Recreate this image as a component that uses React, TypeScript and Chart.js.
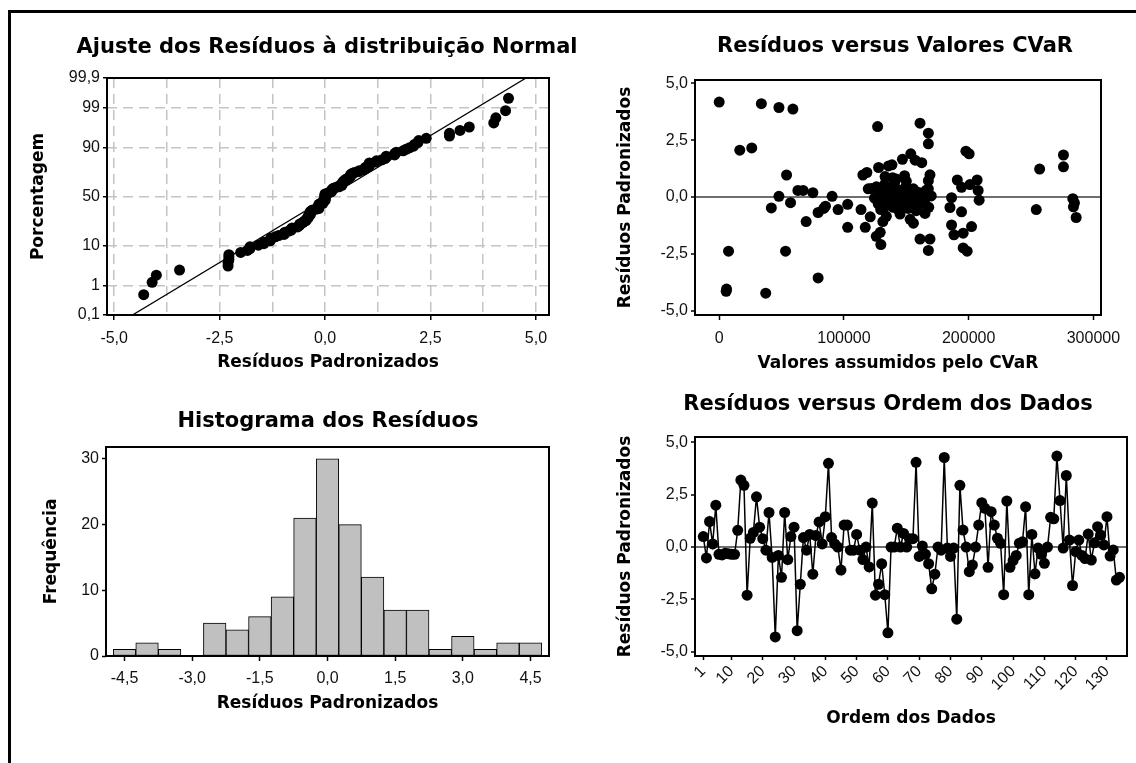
import { useEffect, useRef } from 'react';
import { Chart, LinearScale, registerables } from 'chart.js';

// ---------- data ----------

// Standardized residuals in data order (134 observations)
const orderResiduals = [
  0.5, -0.52, 1.22, 0.15, 2.0, -0.35, -0.38, -0.3, -0.32, -0.35,
  -0.35, 0.8, 3.2, 2.95, -2.3, 0.42, 0.7, 2.4, 0.95, 0.4,
  -0.15, 1.65, -0.5, -4.3, -0.4, -1.45, 1.65, -0.6, 0.5, 0.95,
  -4.0, -1.78, 0.45, -0.15, 0.6, -1.3, 0.55, 1.2, 0.15, 1.45,
  4.0, 0.45, 0.15, 0.0, -1.1, 1.05, 1.05, -0.15, -0.15, 0.6,
  -0.15, -0.6, 0.0, -0.95, 2.1, -2.3, -1.78, -0.8, -2.28, -4.1,
  0.0, 0.0, 0.9, 0.0, 0.65, 0.0, 0.4, 0.4, 4.05, -0.45,
  0.05, -0.35, -0.8, -2.0, -1.3, 0.0, -0.15, 4.28, -0.05, -0.45,
  -0.05, -3.45, 2.95, 0.81, 0.0, -1.18, -0.86, 0.0, 1.05, 2.12,
  1.85, -0.97, 1.69, 1.05, 0.42, 0.18, -2.28, 2.2, -0.97, -0.65,
  -0.4, 0.18, 0.25, 1.92, -2.28, 0.6, -1.28, -0.05, -0.35, -0.78,
  0.0, 1.42, 1.35, 4.35, 2.22, -0.05, 3.42, 0.33, -1.84, -0.22,
  0.33, -0.4, -0.55, 0.62, -0.62, 0.2, 0.97, 0.57, 0.1, 1.45,
  -0.43, -0.14, -1.58, -1.45,
];
const orderTicks = [1, 10, 20, 30, 40, 50, 60, 70, 80, 90, 100, 110, 120, 130];

// Histogram of residuals (bin centres, width 0,5)
const histogramBins = [-4.5, -4.0, -3.5, -3.0, -2.5, -2.0, -1.5, -1.0, -0.5, 0.0, 0.5, 1.0, 1.5, 2.0, 2.5, 3.0, 3.5, 4.0, 4.5];
const histogramCounts = [1, 2, 1, 0, 5, 4, 6, 9, 21, 30, 20, 12, 7, 7, 1, 3, 1, 2, 2];
const histogramXTicks = [-4.5, -3.0, -1.5, 0.0, 1.5, 3.0, 4.5];
const frequencyTicks = [0, 10, 20, 30];

// Residuals against the CVaR values
const cvarValues = [
  0, 33800, 47900, 59100, 16500, 26100, 7500, 5900, 5600, 37300,
  53200, 79300, 54000, 47900, 41800, 57200, 63100, 67300, 75100, 69700,
  79300, 83800, 85200, 90500, 95300, 103000, 103000, 113700, 117100, 115200,
  118400, 121100, 119500, 125900, 127000, 127800, 129600, 129100, 131200, 135700,
  138500, 146900, 153600, 157100, 162400, 161000, 167700, 167700, 169000, 167700,
  167700, 165000, 161000, 169000, 167700, 155700, 153100, 155700, 141900, 148600,
  186300, 185000, 190900, 194300, 194300, 186300, 188200, 195600, 202300, 195600,
  198800, 197800, 200400, 206800, 207600, 208400, 201000, 254200, 256900, 276000,
  276000, 283500, 284800, 284000, 286200, 166500, 122000, 124500, 126000, 127500,
  128500, 129500, 130500, 131500, 132500, 133500, 134500, 135500, 136500, 137500,
  138500, 139500, 140500, 141500, 142500, 143500, 144500, 145500, 146500, 147500,
  148500, 149500, 150500, 151500, 152500, 153500, 154500, 155500, 156500, 157500,
  158500, 160000, 161500, 163000, 164500, 166000, 168000, 170000, 133000, 139000,
  145000, 150000, 158000, 134000,
];
const cvarResiduals = [
  4.18, 4.11, 3.94, 3.87, 2.06, 2.16, -2.38, -4.05, -4.15, -4.23,
  -2.38, -3.56, 0.97, 0.03, -0.48, -0.25, 0.29, 0.29, 0.19, -1.08,
  -0.68, -0.5, -0.4, 0.03, -0.55, -0.32, -1.33, -0.55, -1.33, 0.97,
  1.08, -0.87, 0.36, -1.73, 3.1, 1.3, -2.09, -1.55, -1.08, 1.37,
  1.42, 1.66, 1.9, 1.62, 1.51, 3.25, 2.81, 2.34, 0.98, 0.72,
  0.36, -0.72, -1.85, -1.85, -2.35, -1.15, -0.98, 0.36, 0.79, 0.94,
  -0.03, -0.46, 0.75, 0.43, -0.65, -1.23, -1.66, -1.59, -1.3, -2.24,
  -2.38, 2.02, 1.9, 0.75, 0.29, -0.14, 0.55, -0.55, 1.23, 1.85,
  1.33, -0.07, -0.26, -0.43, -0.9, 0.1, 0.38, -0.05, 0.45, -0.3,
  0.1, -0.55, 0.25, -0.15, 0.55, -0.4, 0.05, -0.25, 0.4, -0.1,
  0.2, -0.45, 0.6, -0.2, 0.0, -0.55, 0.3, -0.05, -0.35, 0.15,
  -0.2, 0.45, -0.1, -0.5, 0.05, -0.25, 0.25, -0.05, -0.4, 0.1,
  -0.15, 0.2, -0.3, 0.0, -0.2, 0.3, -0.45, 0.05, 0.9, 0.85,
  -0.75, 0.7, -0.6, -0.85,
];
const cvarTicks = [0, 100000, 200000, 300000];

const residualTicks = [-5, -2.5, 0, 2.5, 5];

// Normal probability plot
const probabilityTicks = [0.1, 1, 10, 50, 90, 99, 99.9];
const normalXTicks = [-5, -3.75, -2.5, -1.25, 0, 1.25, 2.5, 3.75, 5];
const normalFitMean = 0.1;
const normalFitSd = 1.51;

// ---------- helpers ----------

const CANVAS_W = 1136;
const CANVAS_H = 763;
const TICK_FONT = { family: '"Liberation Sans", Arial, sans-serif', size: 16 };
const AXIS_TITLE_FONT = { family: '"DejaVu Sans", Verdana, sans-serif', size: 17, weight: 'bold' as const };
const GRID_GRAY = '#c4c4c4';
const ZERO_LINE = '#6e6e6e';
const CLEAR = 'rgba(0,0,0,0)';

// inverse of the standard normal CDF (Acklam)
function probit(p: number): number {
  const a = [-39.69683028665376, 220.9460984245205, -275.9285104469687, 138.357751867269, -30.66479806614716, 2.506628277459239];
  const b = [-54.47609879822406, 161.5858368580409, -155.6989798598866, 66.80131188771972, -13.28068155288572];
  const c = [-0.007784894002430293, -0.3223964580411365, -2.400758277161838, -2.549671010243800, 4.374664141464968, 2.938163982698783];
  const d = [0.007784695709041462, 0.3224671290700398, 2.445134137142996, 3.754408661907416];
  const lo = 0.02425;
  if (p < lo) {
    const q = Math.sqrt(-2 * Math.log(p));
    return (((((c[0] * q + c[1]) * q + c[2]) * q + c[3]) * q + c[4]) * q + c[5]) / ((((d[0] * q + d[1]) * q + d[2]) * q + d[3]) * q + 1);
  }
  if (p <= 1 - lo) {
    const q = p - 0.5;
    const r = q * q;
    return ((((((a[0] * r + a[1]) * r + a[2]) * r + a[3]) * r + a[4]) * r + a[5]) * q) / (((((b[0] * r + b[1]) * r + b[2]) * r + b[3]) * r + b[4]) * r + 1);
  }
  const q = Math.sqrt(-2 * Math.log(1 - p));
  return -(((((c[0] * q + c[1]) * q + c[2]) * q + c[3]) * q + c[4]) * q + c[5]) / ((((d[0] * q + d[1]) * q + d[2]) * q + d[3]) * q + 1);
}

function normalCdf(z: number): number {
  const x = Math.abs(z) / Math.SQRT2;
  const t = 1 / (1 + 0.3275911 * x);
  const erf = 1 - ((((1.061405429 * t - 1.453152027) * t + 1.421413741) * t - 0.284496736) * t + 0.254829592) * t * Math.exp(-x * x);
  return z >= 0 ? 0.5 * (1 + erf) : 0.5 * (1 - erf);
}

// Percent axis spaced by normal quantiles
class ProbabilityScale extends LinearScale {
  static id = 'probability';
  static defaults = {};

  determineDataLimits() {
    const opts: any = this.options;
    this.min = typeof opts.min === 'number' ? opts.min : 0.1;
    this.max = typeof opts.max === 'number' ? opts.max : 99.9;
  }

  buildTicks() {
    return probabilityTicks.map((value) => ({ value }));
  }

  configure() {
    super.configure();
    const self: any = this;
    self._zLow = probit(this.min / 100);
    self._zHigh = probit(this.max / 100);
  }

  getPixelForValue(value: number) {
    const self: any = this;
    const z = probit(value / 100);
    return this.getPixelForDecimal((z - self._zLow) / (self._zHigh - self._zLow));
  }

  getValueForPixel(pixel: number) {
    const self: any = this;
    const z = self._zLow + this.getDecimalForPixel(pixel) * (self._zHigh - self._zLow);
    return 100 * normalCdf(z);
  }
}

Chart.register(...registerables, ProbabilityScale);

const decimalComma = (v: number) => (Math.abs(v) < 1e-9 ? 0 : v).toFixed(1).replace('.', ',');
const plainLabel = (v: number) => String(v);
const isMultipleOf = (v: number, step: number) => Math.abs(v / step - Math.round(v / step)) < 1e-6;

type PanelBox = { left: number; top: number; right: number; bottom: number; yAxisWidth: number; xAxisHeight: number };

const normalBox: PanelBox = { left: 107, top: 78, right: 549, bottom: 315, yAxisWidth: 79, xAxisHeight: 58 };
const cvarBox: PanelBox = { left: 695, top: 80, right: 1101, bottom: 315, yAxisWidth: 80, xAxisHeight: 59 };
const histogramBox: PanelBox = { left: 106, top: 447, right: 549, bottom: 656, yAxisWidth: 65, xAxisHeight: 58 };
const orderBox: PanelBox = { left: 695, top: 437, right: 1127, bottom: 656, yAxisWidth: 80, xAxisHeight: 73 };

function panelLayout(b: PanelBox) {
  return {
    padding: {
      left: b.left - b.yAxisWidth,
      top: b.top,
      right: CANVAS_W - b.right,
      bottom: CANVAS_H - b.bottom - b.xAxisHeight,
    },
  };
}

const fixedTicks = (values: number[]) => (scale: any) => {
  scale.ticks = values.map((value) => ({ value }));
};

type AxisSpec = {
  box: PanelBox;
  min: number;
  max: number;
  ticks: number[];
  format: (v: number) => string;
  title: string;
  type?: string;
  grid?: any;
  border?: any;
  tickOptions?: any;
};

function bottomAxis(o: AxisSpec) {
  return {
    type: 'linear',
    position: 'bottom',
    min: o.min,
    max: o.max,
    offset: false,
    afterBuildTicks: fixedTicks(o.ticks),
    afterFit: (s: any) => {
      s.height = o.box.xAxisHeight;
    },
    ticks: {
      font: TICK_FONT,
      color: '#111',
      padding: 9,
      autoSkip: false,
      minRotation: 0,
      maxRotation: 0,
      callback: (v: any) => o.format(Number(v)),
      ...o.tickOptions,
    },
    grid: { display: true, drawOnChartArea: false, drawTicks: true, tickLength: 5, tickWidth: 1.5, tickColor: '#000', offset: false, ...o.grid },
    border: { display: false, ...o.border },
    title: { display: true, text: o.title, font: AXIS_TITLE_FONT, color: '#000', padding: 0 },
  };
}

function leftAxis(o: AxisSpec) {
  const axis: any = {
    type: o.type || 'linear',
    position: 'left',
    min: o.min,
    max: o.max,
    afterFit: (s: any) => {
      s.width = o.box.yAxisWidth;
    },
    ticks: { font: TICK_FONT, color: '#111', padding: 3, autoSkip: false, callback: (v: any) => o.format(Number(v)) },
    grid: { display: true, drawOnChartArea: false, drawTicks: true, tickLength: 4, tickWidth: 1.5, tickColor: '#000', ...o.grid },
    border: { display: false, ...o.border },
    title: { display: true, text: o.title, font: AXIS_TITLE_FONT, color: '#000', padding: 0 },
  };
  if (axis.type !== 'probability') axis.afterBuildTicks = fixedTicks(o.ticks);
  return axis;
}

// Draws a bold panel heading centred at a given point
const panelTitlePlugin = {
  id: 'panelTitle',
  afterDraw(chart: any, _args: any, opts: any) {
    if (!opts || !opts.text) return;
    const ctx = chart.ctx;
    ctx.save();
    ctx.font = 'bold 21px "DejaVu Sans", Verdana, sans-serif';
    ctx.fillStyle = '#000';
    ctx.textAlign = 'center';
    ctx.textBaseline = 'middle';
    ctx.fillText(opts.text, opts.x, opts.y);
    ctx.restore();
  },
};

// Closed box around the plotting area
const plotFramePlugin = {
  id: 'plotFrame',
  afterDatasetsDraw(chart: any) {
    const { left, top, right, bottom } = chart.chartArea;
    const ctx = chart.ctx;
    ctx.save();
    ctx.strokeStyle = '#000';
    ctx.lineWidth = 2;
    ctx.strokeRect(left, top, right - left, bottom - top);
    ctx.restore();
  },
};

const basePlugins = (title: { text: string; x: number; y: number }) => ({
  legend: { display: false },
  tooltip: { enabled: false },
  panelTitle: title,
});

const zeroLineGrid = {
  drawOnChartArea: true,
  lineWidth: 2,
  color: (c: any) => (c.tick && c.tick.value === 0 ? ZERO_LINE : CLEAR),
};

// ---------- chart configurations ----------

function normalPlotConfig(): any {
  const sorted = [...orderResiduals].sort((a, b) => a - b);
  const n = sorted.length;
  const points = sorted.map((r, i) => ({ x: r, y: (100 * (i + 1 - 0.3)) / (n + 0.4) }));
  const fitLine = [0.1, 99.9].map((p) => ({ x: normalFitMean + normalFitSd * probit(p / 100), y: p }));
  return {
    type: 'scatter',
    data: {
      datasets: [
        { data: points, pointRadius: 5.5, pointBackgroundColor: '#000', pointBorderColor: '#000', pointBorderWidth: 0, showLine: false },
        { data: fitLine, showLine: true, borderColor: '#000', borderWidth: 1.3, pointRadius: 0 },
      ],
    },
    options: {
      responsive: false,
      animation: false,
      events: [],
      layout: panelLayout(normalBox),
      scales: {
        x: bottomAxis({
          box: normalBox,
          min: -5.17,
          max: 5.31,
          ticks: normalXTicks,
          format: (v) => (isMultipleOf(v, 2.5) ? decimalComma(v) : ''),
          title: 'Resíduos Padronizados',
          grid: {
            drawOnChartArea: true,
            color: GRID_GRAY,
            lineWidth: 1.5,
            tickColor: (c: any) => (c.tick && isMultipleOf(c.tick.value, 2.5) ? '#000' : CLEAR),
          },
          border: { dash: [10, 6] },
        }),
        y: leftAxis({
          box: normalBox,
          type: 'probability',
          min: 0.1,
          max: 99.9,
          ticks: probabilityTicks,
          format: (v) => String(v).replace('.', ','),
          title: 'Porcentagem',
          grid: {
            drawOnChartArea: true,
            lineWidth: 1.5,
            color: (c: any) => (c.tick && c.tick.value > 0.5 && c.tick.value < 99.5 ? GRID_GRAY : CLEAR),
          },
          border: { dash: [10, 6] },
        }),
      },
      plugins: basePlugins({ text: 'Ajuste dos Resíduos à distribuição Normal', x: 327, y: 48 }),
    },
    plugins: [panelTitlePlugin, plotFramePlugin],
  };
}

function cvarPlotConfig(): any {
  return {
    type: 'scatter',
    data: {
      datasets: [
        {
          data: cvarValues.map((x, i) => ({ x, y: cvarResiduals[i] })),
          pointRadius: 5.5,
          pointBackgroundColor: '#000',
          pointBorderColor: '#000',
          pointBorderWidth: 0,
        },
      ],
    },
    options: {
      responsive: false,
      animation: false,
      events: [],
      layout: panelLayout(cvarBox),
      scales: {
        x: bottomAxis({
          box: cvarBox,
          min: -19400,
          max: 306100,
          ticks: cvarTicks,
          format: plainLabel,
          title: 'Valores assumidos pelo CVaR',
        }),
        y: leftAxis({
          box: cvarBox,
          min: -5.19,
          max: 5.15,
          ticks: residualTicks,
          format: decimalComma,
          title: 'Resíduos Padronizados',
          grid: zeroLineGrid,
        }),
      },
      plugins: basePlugins({ text: 'Resíduos versus Valores CVaR', x: 895, y: 47 }),
    },
    plugins: [panelTitlePlugin, plotFramePlugin],
  };
}

function histogramConfig(): any {
  return {
    type: 'bar',
    data: {
      datasets: [
        {
          data: histogramBins.map((x, i) => ({ x, y: histogramCounts[i] })),
          backgroundColor: '#c0c0c0',
          borderColor: '#000',
          borderWidth: 1,
          borderSkipped: false,
          barPercentage: 1,
          categoryPercentage: 1,
        },
      ],
    },
    options: {
      responsive: false,
      animation: false,
      events: [],
      layout: panelLayout(histogramBox),
      scales: {
        x: bottomAxis({
          box: histogramBox,
          min: -4.91,
          max: 4.91,
          ticks: histogramXTicks,
          format: decimalComma,
          title: 'Resíduos Padronizados',
          tickOptions: { padding: 8 },
        }),
        y: leftAxis({
          box: histogramBox,
          min: 0,
          max: 31.8,
          ticks: frequencyTicks,
          format: plainLabel,
          title: 'Frequência',
        }),
      },
      plugins: basePlugins({ text: 'Histograma dos Resíduos', x: 328, y: 422 }),
    },
    plugins: [panelTitlePlugin, plotFramePlugin],
  };
}

function orderPlotConfig(): any {
  return {
    type: 'scatter',
    data: {
      datasets: [
        {
          data: orderResiduals.map((y, i) => ({ x: i + 1, y })),
          showLine: true,
          borderColor: '#000',
          borderWidth: 1.5,
          pointRadius: 5.5,
          pointBackgroundColor: '#000',
          pointBorderColor: '#000',
          pointBorderWidth: 0,
        },
      ],
    },
    options: {
      responsive: false,
      animation: false,
      events: [],
      layout: panelLayout(orderBox),
      scales: {
        x: bottomAxis({
          box: orderBox,
          min: -1.65,
          max: 136.4,
          ticks: orderTicks,
          format: plainLabel,
          title: 'Ordem dos Dados',
          grid: { tickLength: 4 },
          tickOptions: { minRotation: 45, maxRotation: 45, padding: 2 },
        }),
        y: leftAxis({
          box: orderBox,
          min: -5.21,
          max: 5.26,
          ticks: residualTicks,
          format: decimalComma,
          title: 'Resíduos Padronizados',
          grid: zeroLineGrid,
        }),
      },
      plugins: basePlugins({ text: 'Resíduos versus Ordem dos Dados', x: 888, y: 405 }),
    },
    plugins: [panelTitlePlugin, plotFramePlugin],
  };
}

// ---------- component ----------

const canvasStyle: any = { position: 'absolute', left: 0, top: 0 };

export default function App() {
  const normalRef = useRef<HTMLCanvasElement>(null);
  const cvarRef = useRef<HTMLCanvasElement>(null);
  const histRef = useRef<HTMLCanvasElement>(null);
  const orderRef = useRef<HTMLCanvasElement>(null);

  useEffect(() => {
    const charts = [
      new Chart(normalRef.current as HTMLCanvasElement, normalPlotConfig()),
      new Chart(cvarRef.current as HTMLCanvasElement, cvarPlotConfig()),
      new Chart(histRef.current as HTMLCanvasElement, histogramConfig()),
      new Chart(orderRef.current as HTMLCanvasElement, orderPlotConfig()),
    ];
    return () => charts.forEach((c) => c.destroy());
  }, []);

  return (
    <div
      style={{
        position: 'fixed',
        left: 0,
        top: 0,
        width: CANVAS_W,
        height: CANVAS_H,
        background: '#fff',
        overflow: 'hidden',
      }}
    >
      <div
        style={{
          position: 'absolute',
          left: 8,
          top: 10,
          width: 1300,
          height: 900,
          borderTop: '3px solid #000',
          borderLeft: '3px solid #000',
        }}
      />
      <canvas ref={normalRef} width={CANVAS_W} height={CANVAS_H} style={canvasStyle} />
      <canvas ref={cvarRef} width={CANVAS_W} height={CANVAS_H} style={canvasStyle} />
      <canvas ref={histRef} width={CANVAS_W} height={CANVAS_H} style={canvasStyle} />
      <canvas ref={orderRef} width={CANVAS_W} height={CANVAS_H} style={canvasStyle} />
    </div>
  );
}
